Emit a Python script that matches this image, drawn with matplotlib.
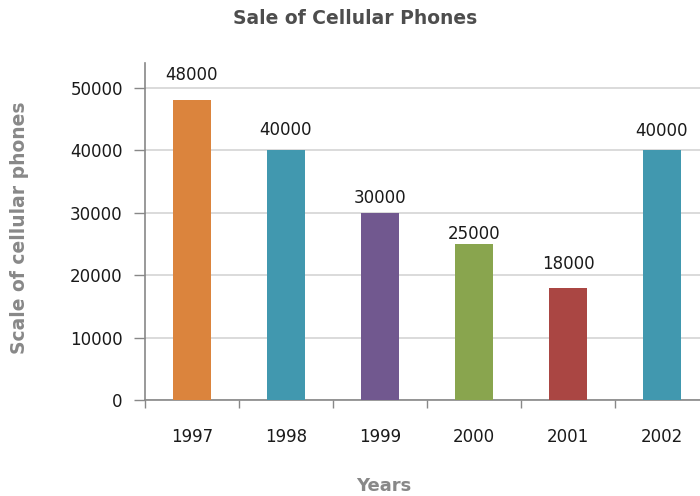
import matplotlib
matplotlib.use("Agg")
import matplotlib.pyplot as plt
import numpy as np

years = ["1997", "1998", "1999", "2000", "2001", "2002"]
sales = [48000, 40000, 30000, 25000, 18000, 40000]
colors = ["#DB843D", "#4198AF", "#71588F", "#89A54E", "#AA4643", "#4198AF"]
yticks = [0, 10000, 20000, 30000, 40000, 50000]
# vertical offset (pixels) of each value label above its bar, as in the reference
label_offsets = [25, 20, 15, 10, 24, 19]

fig = plt.figure(figsize=(7, 4.96), dpi=100)
ax = fig.add_axes([145/700, (496-400)/496, (709-145)/700, (400-63)/496])

x = np.arange(len(years))
ax.bar(x, sales, width=0.4, color=colors, zorder=3)
for xi, v, off in zip(x, sales, label_offsets):
    ax.annotate(str(v), (xi, v), xytext=(0, off), textcoords="offset pixels",
                ha="center", va="center", fontsize=12, color="#1a1a1a")

ax.set_xlim(-0.5, len(years) - 0.5)
ax.set_ylim(0, 54000)
ax.set_yticks(yticks)
ax.set_yticklabels([str(t) for t in yticks], fontsize=12, color="#1a1a1a")
ax.yaxis.grid(True, color="#d4d4d4", linewidth=1.2, zorder=0)
ax.set_axisbelow(True)

ax.set_xticks(np.arange(len(years) + 1) - 0.5)
ax.set_xticklabels([])
ax.set_xticks(x, minor=True)
ax.set_xticklabels(years, minor=True, fontsize=12, color="#1a1a1a")
ax.tick_params(axis="x", which="minor", length=0, pad=20)
ax.tick_params(axis="x", which="major", length=6, color="#888888", width=1)
ax.tick_params(axis="y", length=8, color="#888888", width=1, pad=8)

for s in ["top", "right"]:
    ax.spines[s].set_visible(False)
ax.spines["left"].set_color("#888888")
ax.spines["bottom"].set_color("#888888")
ax.spines["left"].set_linewidth(1.2)
ax.spines["bottom"].set_linewidth(1.2)

fig.text(355/700, 1 - 18/496, "Sale of Cellular Phones", ha="center", va="center",
         fontsize=13.5, fontweight="bold", color="#4d4d4d")
fig.text(384/700, 1 - 486/496, "Years", ha="center", va="center",
         fontsize=13, fontweight="bold", color="#888888")
fig.text(20/700, 1 - 228/496, "Scale of cellular phones", ha="center", va="center",
         rotation=90, fontsize=13.5, fontweight="bold", color="#888888")

fig.savefig("out.png", dpi=100)
